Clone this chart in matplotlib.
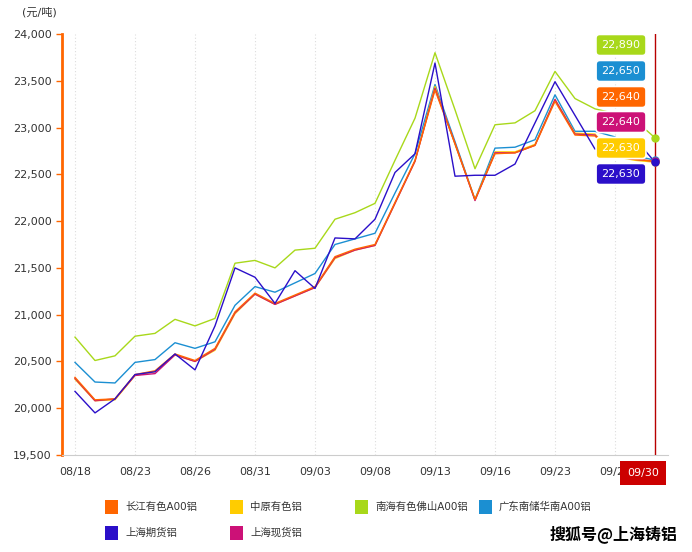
import numpy as np
import matplotlib
matplotlib.use("Agg")
import matplotlib.pyplot as plt
from matplotlib.patches import Rectangle

plt.rcParams["font.family"] = ["DejaVu Sans", "Noto Sans CJK SC"]

dates = ["08/18", "08/19", "08/20", "08/23", "08/24", "08/25", "08/26", "08/27",
         "08/30", "08/31", "09/01", "09/02", "09/03", "09/06", "09/07", "09/08",
         "09/09", "09/10", "09/13", "09/14", "09/15", "09/16", "09/17", "09/22",
         "09/23", "09/24", "09/27", "09/28", "09/29", "09/30"]

changjiang = [20330, 20090, 20100, 20360, 20400, 20580, 20510, 20640, 21030, 21230,
              21120, 21210, 21300, 21620, 21700, 21750, 22200, 22650, 23400, 22830,
              22230, 22720, 22730, 22810, 23280, 22920, 22910, 22700, 22660, 22640]
zhongyuan = [20310, 20080, 20090, 20350, 20390, 20570, 20500, 20620, 21010, 21220,
             21110, 21200, 21290, 21600, 21690, 21740, 22190, 22640, 23440, 22820,
             22230, 22740, 22740, 22820, 23300, 22940, 22930, 22690, 22650, 22630]
nanhai = [20760, 20510, 20560, 20770, 20800, 20950, 20880, 20960, 21550, 21580,
          21500, 21690, 21710, 22020, 22090, 22190, 22650, 23100, 23800, 23190,
          22560, 23030, 23050, 23180, 23600, 23310, 23200, 23150, 23080, 22890]
guangdong = [20490, 20280, 20270, 20490, 20520, 20700, 20640, 20710, 21100, 21300,
             21240, 21340, 21440, 21750, 21810, 21870, 22300, 22720, 23460, 22850,
             22230, 22780, 22790, 22870, 23350, 22960, 22960, 22900, 22700, 22650]
shfe = [20180, 19950, 20100, 20360, 20390, 20580, 20410, 20880, 21500, 21400,
        21120, 21470, 21280, 21820, 21810, 22020, 22520, 22720, 23690, 22480,
        22490, 22490, 22610, 23050, 23490, 23130, 22770, 22800, 22880, 22630]
shanghai_spot = [20320, 20080, 20100, 20350, 20370, 20570, 20500, 20630, 21020, 21220,
                 21110, 21200, 21290, 21610, 21690, 21740, 22190, 22640, 23420, 22830,
                 22220, 22730, 22730, 22810, 23300, 22930, 22920, 22690, 22660, 22640]

names = ["长江有色A00铝", "中原有色铝", "南海有色佛山A00铝", "广东南储华南A00铝", "上海期货铝", "上海现货铝"]
series = [changjiang, zhongyuan, nanhai, guangdong, shfe, shanghai_spot]
colors = ["#FF6600", "#FFCC00", "#A8D81A", "#1B8FD2", "#2B0FC9", "#CC1177"]

fig = plt.figure(figsize=(6.92, 5.52), dpi=100)
W, H = 692, 552
ax = fig.add_axes([62 / W, 97 / H, (668 - 62) / W, 421 / H])
x = np.arange(len(dates))

tick_idx = list(range(0, len(dates) - 1, 3))
for t in tick_idx:
    ax.axvline(t, color="#dddddd", lw=0.8, ls=(0, (1, 2)), zorder=0)

# draw order so that purple ends on top
for k in [2, 3, 1, 5, 0, 4]:
    ax.plot(x, series[k], color=colors[k], lw=1.0, zorder=2)

ax.axvline(x[-1], color="#B80000", lw=1.0, zorder=3)
for k in [0, 1, 3, 5, 2, 4]:
    ax.plot(x[-1], series[k][-1], "o", color=colors[k], ms=5, zorder=4)

ax.set_xlim(-0.65, 29.65)
ax.set_ylim(19500, 24000)
ax.set_yticks(np.arange(19500, 24001, 500))
ax.set_yticklabels([f"{v:,}" for v in range(19500, 24001, 500)])
ax.set_xticks(tick_idx)
ax.set_xticklabels([dates[t] for t in tick_idx])
ax.tick_params(axis="y", colors="#FF6600", labelcolor="#333333", labelsize=8, length=4, width=1)
ax.tick_params(axis="x", length=0, labelcolor="#333333", labelsize=8, pad=9)

for s in ["top", "right"]:
    ax.spines[s].set_visible(False)
ax.spines["left"].set_color("#FF6600")
ax.spines["left"].set_linewidth(2)
ax.spines["bottom"].set_color("#cccccc")

fig.text(22 / W, 1 - 12 / H, "(元/吨)", fontsize=8, color="#333333", va="center")

# value labels at the right
order = [2, 3, 0, 5, 1, 4]
label_y = [45, 71, 97, 122, 148, 174]
for k, yy in zip(order, label_y):
    fig.text(621 / W, 1 - yy / H, f"{series[k][-1]:,}", fontsize=8, color="white",
             ha="center", va="center", zorder=6,
             bbox=dict(boxstyle="round,pad=0.5,rounding_size=0.35", fc=colors[k],
                       ec="white", lw=1.2))

# current date box
fig.text(643 / W, 1 - 473 / H, dates[-1], fontsize=8, color="white", ha="center", va="center",
         bbox=dict(boxstyle="square,pad=0.6", fc="#CC0000", ec="none"), zorder=10)

# legend
leg_x = [105, 230, 355, 479, 105, 230]
leg_y = [507, 507, 507, 507, 533, 533]
for k in range(len(names)):
    fig.patches.append(Rectangle((leg_x[k] / W, 1 - (leg_y[k] + 7) / H), 13 / W, 14 / H,
                                 transform=fig.transFigure, fc=colors[k], ec="none"))
    fig.text((leg_x[k] + 20) / W, 1 - leg_y[k] / H, names[k], fontsize=7.5,
             color="#333333", va="center")

fig.text(678 / W, 1 - 534 / H, "搜狐号@上海铸铝", fontsize=11.5, fontweight="bold",
         ha="right", va="center", family=["Noto Sans CJK SC", "DejaVu Sans"])

fig.savefig("out.png", dpi=100)
